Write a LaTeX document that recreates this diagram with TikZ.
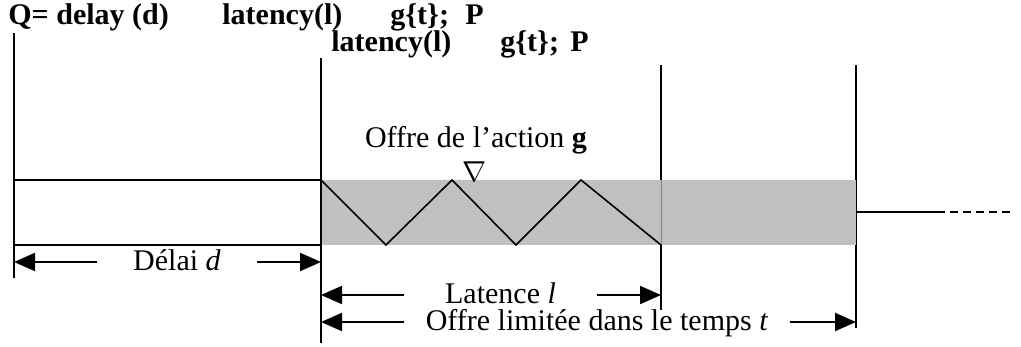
\documentclass[tikz,border=0pt]{standalone}
\usepackage{fontspec}
\setmainfont{Liberation Serif}
\usetikzlibrary{arrows.meta}
\definecolor{bargray}{HTML}{C0C0C0}
\tikzset{
  tick/.style     = {line width=1pt},
  boxline/.style  = {line width=1pt},
  wave/.style     = {line width=0.8pt, line join=miter},
  dimarrow/.style = {-{Triangle[length=10.5pt,width=9pt]}, line width=1pt},
  dimlabel/.style = {inner sep=0pt, text height=0.8em, text depth=0pt,
                     font=\fontsize{15}{17}\selectfont},
  head/.style     = {anchor=base west, inner sep=0pt,
                     font=\fontsize{15}{17}\selectfont\bfseries},
}

\begin{document}
\begin{tikzpicture}[x=0.5pt, y=-0.5pt]
  \useasboundingbox (0,0) rectangle (1021,347);
  \node[head] (q1) at (8,25) {Q= delay (d)};
  \node[head] (q2) at (222,25) {latency(l)};
  \node[head] (q3) at (390,25) {g\{t\};};
  \node[head] (q4) at (465,25) {P};
  \node[head] (r2) at (331,52) {latency(l)};
  \node[head] (r3) at (500,52) {g\{t\};};
  \node[head] (r4) at (570,52) {P};

  \coordinate (v0) at (14,33);   \coordinate (v0e) at (14,278);
  \coordinate (v1) at (321,58);  \coordinate (v1e) at (321,343);
  \coordinate (v2) at (661,65);  \coordinate (v2e) at (661,310);
  \coordinate (v3) at (856,65);  \coordinate (v3e) at (856,328);
  \draw[tick] (v0) -- (v0e);
  \draw[tick] (v1) -- (v1e);
  \draw[tick] (v2) -- (v2e);
  \draw[tick] (v3) -- (v3e);

  \draw[boxline] (14,180) -- (321,180) (14,245) -- (321,245);
  \fill[bargray] (322,180) rectangle (856,245);
  \draw[gray, line width=0.4pt] (661,180) -- (661,245);
  \draw[wave] (321,180) -- (386,245) -- (452,180) -- (516,245) -- (581,180) -- (661,245);

  \coordinate (tail) at (856,212);
  \coordinate (tailmid) at (937,212);
  \coordinate (tailend) at (1013,212);
  \draw[boxline] (tail) -- (tailmid);
  \draw[boxline, dash pattern=on 4pt off 2.5pt] (tailmid) -- (tailend);

  \node[anchor=base] (action) at (476,148) {\fontsize{15}{17}\selectfont Offre de l'action \textbf{g}};
  \node[inner sep=0pt] (nabla) at (474,172) {\fontsize{14}{16}\selectfont$\nabla$};

  \node[dimlabel, minimum width=80pt] (delai) at (177,262) {Délai \textit{d}};
  \draw[dimarrow] (delai.west) -- (delai.west -| v0);
  \draw[dimarrow] (delai.east) -- (delai.east -| v1);

  \node[dimlabel, minimum width=96.5pt] (latence) at (500.5,295) {Latence \textit{l}};
  \draw[dimarrow] (latence.west) -- (latence.west -| v1);
  \draw[dimarrow] (latence.east) -- (latence.east -| v2);

  \node[dimlabel, minimum width=193pt] (offre) at (597,322) {Offre limitée dans le temps \textit{t}};
  \draw[dimarrow] (offre.west) -- (offre.west -| v1);
  \draw[dimarrow] (offre.east) -- (offre.east -| v3);
\end{tikzpicture}
\end{document}
